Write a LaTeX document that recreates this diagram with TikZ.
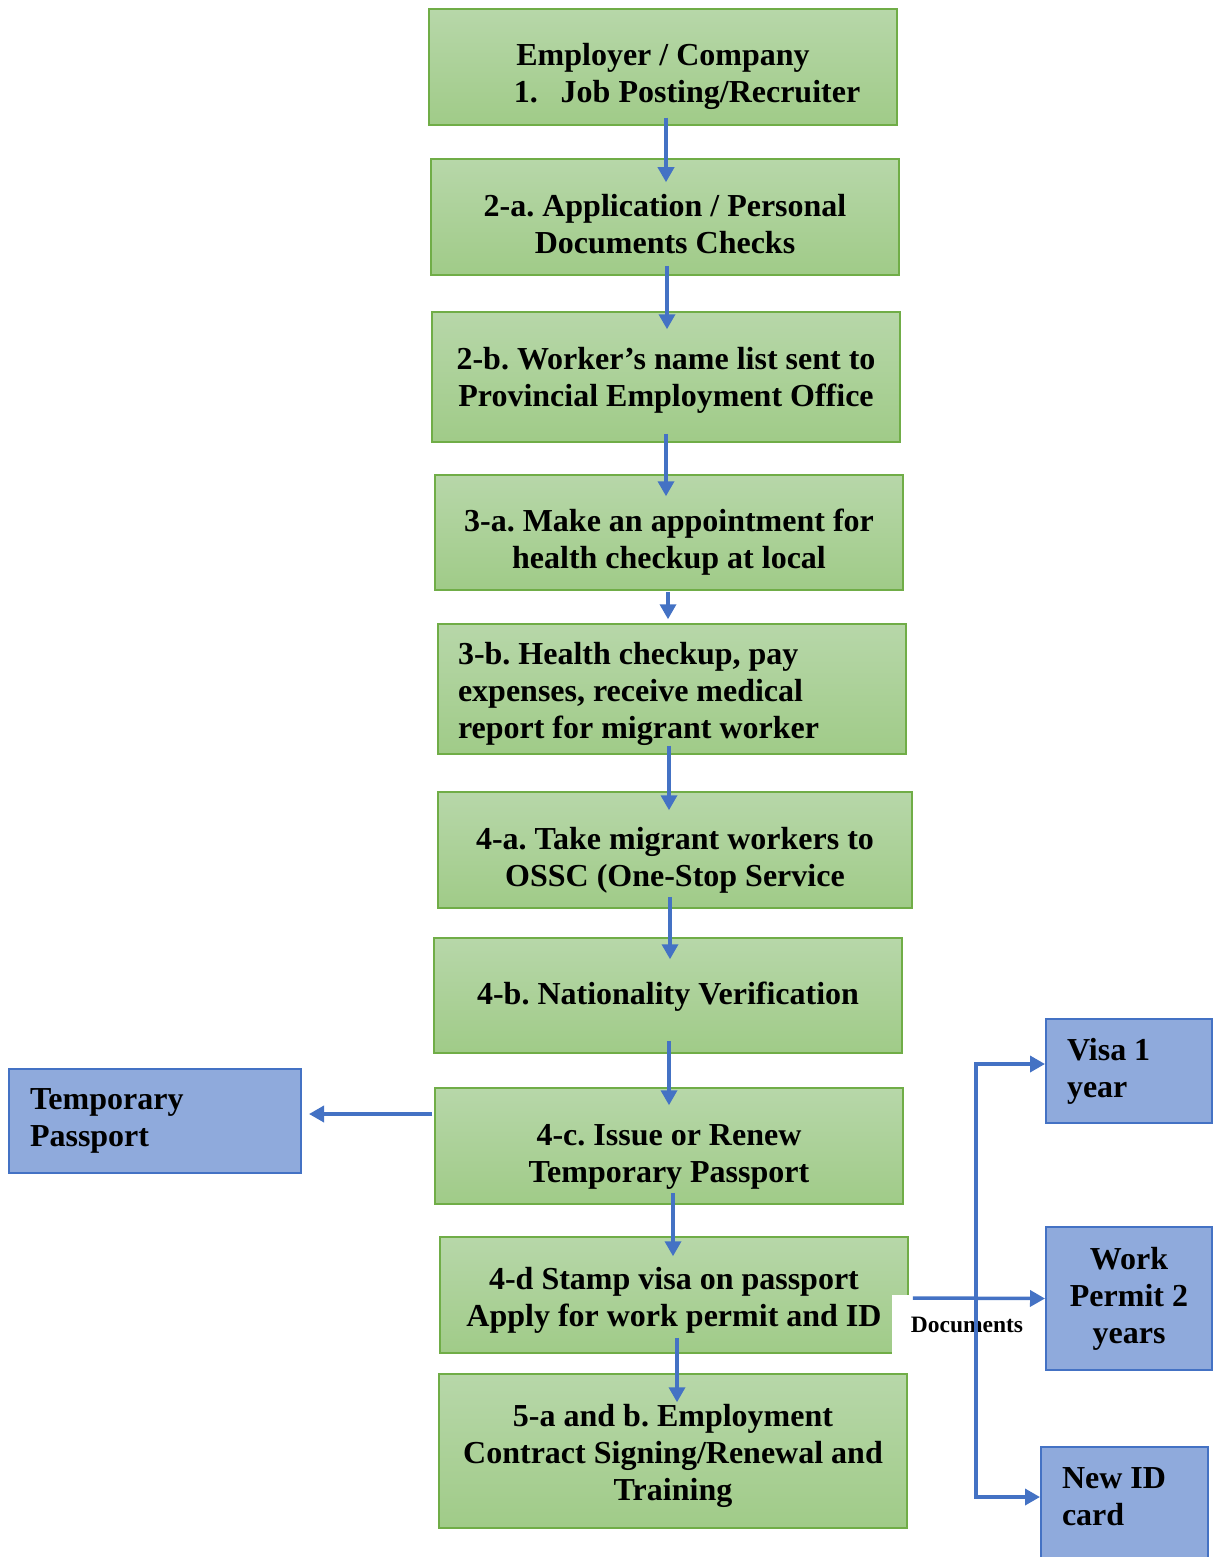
\documentclass[tikz,border=0pt]{standalone}
\usepackage{fontspec}
\setmainfont{Liberation Serif}
\usetikzlibrary{arrows.meta}
\definecolor{stagegreen}{RGB}{112,173,71}
\definecolor{greentop}{RGB}{183,215,169}
\definecolor{greenbot}{RGB}{160,203,136}
\definecolor{flowblue}{RGB}{68,114,196}
\definecolor{infoblue}{RGB}{143,170,220}
\frenchspacing
\begin{document}
\begin{tikzpicture}[x=1pt,y=-1pt,font=\bfseries\fontsize{32}{37}\selectfont,
    stage box/.style={draw=stagegreen,line width=1.5pt,top color=greentop,bottom color=greenbot,
        minimum width=468,minimum height=116,align=center,inner sep=0pt,text height=79pt},
    info box/.style={draw=flowblue,line width=2pt,fill=infoblue,align=flush left,inner sep=0pt,inner xsep=21pt},
    doc label/.style={fill=white,minimum width=150,minimum height=60,inner sep=0pt,
        font=\bfseries\fontsize{23.5}{28}\selectfont},
    flow/.style={draw=flowblue,line width=3.5pt,-{Triangle[width=16pt,length=15pt]}}]
    \useasboundingbox (0,0) rectangle (1213,1557);

    % main steps
    \node[stage box] (e1) at (663,67) {Employer / Company\\\hspace*{48pt}1.\hspace{23pt}Job Posting/Recruiter};
    \node[stage box, text height=74pt] (e2) at (665,217) {2-a. Application / Personal\\Documents Checks};
    \node[stage box, minimum height=130, text height=66pt] (e3) at (666,377) {2-b. Worker’s name list sent to\\Provincial Employment Office};
    \node[stage box, minimum height=115] (e4) at (669,532.5) {3-a. Make an appointment for\\health checkup at local};
    \node[stage box, minimum height=130, text height=32pt, align=flush left, inner xsep=20pt, text width=428] (e5) at (672,689)
        {3-b. Health checkup, pay\\expenses, receive medical\\report for migrant worker};
    \node[stage box, minimum width=474] (e6) at (675,850) {4-a. Take migrant workers to\\OSSC (One-Stop Service};
    \node[stage box, minimum height=115, text height=24pt] (e7) at (668,995.5) {4-b. Nationality Verification};
    \node[stage box] (e8) at (669,1146) {4-c. Issue or Renew\\Temporary Passport};
    \node[stage box, text height=69pt] (e9) at (674,1295) {4-d Stamp visa on passport\\Apply for work permit and ID};
    \node[stage box, minimum height=154, text height=106pt] (e10) at (673,1451) {5-a and b. Employment\\Contract Signing/Renewal and\\Training};

    \node[doc label] (docs) at (967,1325) {Documents};

    % outcomes
    \node[info box, minimum width=292, minimum height=104, text width=250] (tp) at (155,1121) {Temporary\\Passport};
    \node[info box, minimum width=166, minimum height=104, text width=124] (visa) at (1129,1071) {Visa 1\\year};
    \node[info box, minimum width=166, minimum height=143, align=center] (wp) at (1129,1298.5) {Work\\Permit 2\\years};
    \node[info box, minimum width=167, minimum height=150, text width=125, text depth=88pt] (nid) at (1124.5,1522) {New ID\\card};

    % connectors
    \foreach \a/\b/\sx/\sy/\tx/\ty in {e1/e2/3/-8/1/24, e2/e3/2/-10/1/18, e3/e4/0/-9/-3/22,
        e4/e5/-1/1/-4/-4, e5/e6/-3/-9/-6/19, e6/e7/-5/-12/2/22, e7/e8/1/-13/0/18,
        e8/e9/4/-12/-1/20, e9/e10/3/-16/4/29}
        \draw[flow] ([shift={(\sx,\sy)}]\a.south) -- ([shift={(\tx,\ty)}]\b.north);
    \draw[flow] ([shift={(-2,-32)}]e8.west) -- ([shift={(7,-7)}]tp.east);
    \draw[flow] ([shift={(4,3)}]e9.east) -- (wp.west);
    \coordinate (fork) at (976,1298);
    \draw[flow, {Triangle[width=16pt,length=15pt]}-{Triangle[width=16pt,length=15pt]}]
        ([shift={(0,-7)}]visa.west) -| (fork) |- ([shift={(0,-25)}]nid.west);
\end{tikzpicture}
\end{document}
